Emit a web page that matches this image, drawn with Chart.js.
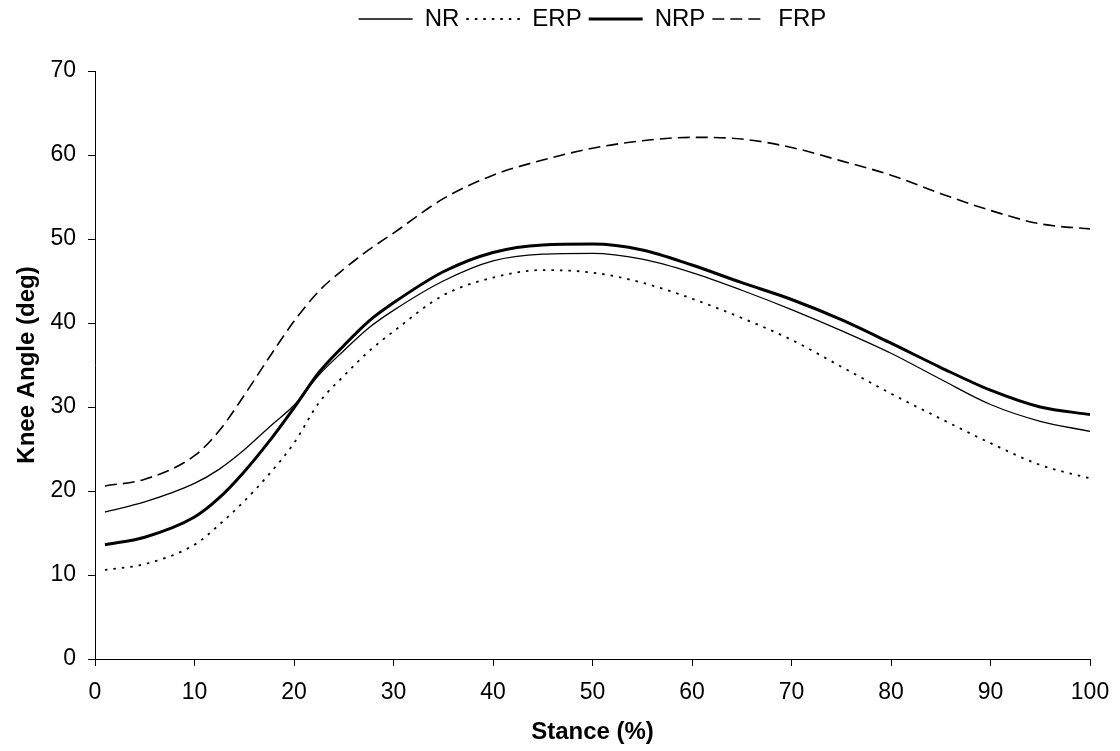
<!DOCTYPE html>
<html>
<head>
<meta charset="utf-8">
<script src="https://cdn.jsdelivr.net/npm/chart.js@4.4.1/dist/chart.umd.min.js"></script>
<style>
html,body{margin:0;padding:0;background:#fff;}
#wrap{width:1120px;height:751px;}
</style>
</head>
<body>
<div id="wrap"><canvas id="c" width="1120" height="751"></canvas></div>
<script>
const stance = [1,5,10,12.5,15,17.5,20,22.5,25,27.5,30,35,40,45,50,55,60,65,70,75,80,85,90,95,100];
const NR  = [17.5,18.7,20.9,22.6,24.9,27.6,30.2,33.8,36.7,39.4,41.5,45.0,47.4,48.2,48.3,47.6,46.0,43.9,41.6,39.1,36.4,33.3,30.3,28.3,27.1];
const ERP = [10.6,11.3,13.6,16.0,18.8,22.0,25.7,30.5,33.7,36.6,39.0,43.3,45.4,46.3,46.0,44.8,42.9,40.6,38.0,34.8,31.6,28.6,25.7,23.1,21.5];
const NRP = [13.6,14.5,16.9,19.2,22.3,25.9,29.9,34.1,37.3,40.2,42.4,46.1,48.4,49.3,49.4,48.7,46.9,44.8,42.8,40.4,37.6,34.7,32.0,30.0,29.1];
const FRP = [20.6,21.4,24.2,27.2,31.4,35.9,40.2,43.8,46.4,48.7,50.7,54.8,57.6,59.4,60.8,61.7,62.1,61.9,60.9,59.3,57.6,55.4,53.4,51.8,51.2];
const xTicks = [0,10,20,30,40,50,60,70,80,90,100];
const yTicks = [0,10,20,30,40,50,60,70];

const pts = arr => stance.map((x,i)=>({x:x,y:arr[i]}));
const FONT = "'Liberation Sans', Arial, sans-serif";

function ds(label, arr, width, dash){
  return {
    label: label, data: pts(arr),
    borderColor:'#000', backgroundColor:'#000',
    borderWidth: width, borderDash: dash,
    pointRadius:0, pointHoverRadius:0, pointStyle:'line',
    cubicInterpolationMode:'monotone', fill:false
  };
}

const legendSpace = {
  id:'legendSpace',
  afterInit(chart){
    const lg = chart.legend;
    if(!lg) return;
    const orig = lg.fit.bind(lg);
    lg.fit = function(){ orig(); this.height = 71; this.bottom = this.top + this.height; };
  },
  afterLayout(chart){
    const lg = chart.legend;
    if(!lg) return;
    lg.left = chart.chartArea.left;
    lg.right = chart.chartArea.right;
  }
};

new Chart(document.getElementById('c'), {
  type:'line',
  data:{ datasets:[
    ds('NR',  NR,  1.3, []),
    ds('ERP', ERP, 1.8, [2.5,6]),
    ds('NRP', NRP, 3,   []),
    ds('FRP', FRP, 1.6, [12,6])
  ]},
  plugins:[legendSpace],
  options:{
    responsive:false, animation:false,
    layout:{padding:{left:13,right:30,top:0,bottom:0}},
    plugins:{
      tooltip:{enabled:false},
      legend:{
        position:'top',
        labels:{
          usePointStyle:true, pointStyleWidth:54, boxHeight:10,
          color:'#000', padding:7,
          font:{family:FONT,size:24},
          generateLabels(chart){
            const items = Chart.defaults.plugins.legend.labels.generateLabels(chart);
            items.forEach(it=>{
              const d = chart.data.datasets[it.datasetIndex];
              it.lineDash = d.borderDash;
              it.lineWidth = d.borderWidth;
              it.strokeStyle = '#000';
              it.fillStyle = '#000';
            });
            return items;
          }
        }
      }
    },
    scales:{
      x:{
        type:'linear', min:0, max:100,
        afterBuildTicks: s => { s.ticks = xTicks.map(v=>({value:v})); },
        afterFit: s => { s.height = 92; s.paddingLeft = 0; s.paddingRight = 0; },
        ticks:{color:'#000', padding:13, font:{family:FONT,size:23}},
        grid:{drawOnChartArea:false, drawTicks:true, tickLength:7, color:'#000'},
        border:{display:true, color:'#000', width:1},
        title:{display:true, text:'Stance (%)', color:'#000', font:{family:FONT,size:24,weight:'bold'}, padding:{top:6,bottom:4}}
      },
      y:{
        type:'linear', min:0, max:70,
        afterBuildTicks: s => { s.ticks = yTicks.map(v=>({value:v})); },
        afterFit: s => { s.width = 82; s.paddingTop = 0; s.paddingBottom = 0; },
        ticks:{color:'#000', padding:12, font:{family:FONT,size:23}},
        grid:{drawOnChartArea:false, drawTicks:true, tickLength:7, color:'#000'},
        border:{display:true, color:'#000', width:1},
        title:{display:true, text:'Knee Angle (deg)', color:'#000', font:{family:FONT,size:24,weight:'bold'}, padding:{top:0,bottom:4}}
      }
    }
  }
});
</script>
</body>
</html>
